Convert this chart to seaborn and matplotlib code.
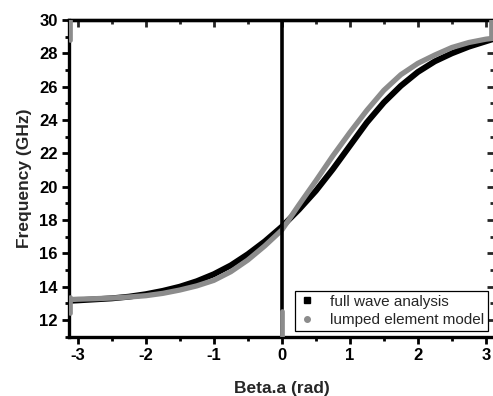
import matplotlib
matplotlib.use("Agg")
import matplotlib.pyplot as plt
import numpy as np
import pandas as pd
import seaborn as sns
from matplotlib.lines import Line2D
from matplotlib.ticker import MultipleLocator

# Phase shift per unit cell (rad)
beta = [-3.14, -3.0, -2.75, -2.5, -2.25, -2.0, -1.75, -1.5, -1.25, -1.0,
        -0.75, -0.5, -0.25, 0.0, 0.25, 0.5, 0.75, 1.0, 1.25, 1.5,
        1.75, 2.0, 2.25, 2.5, 2.75, 3.0, 3.14]

# Frequency (GHz) from the full wave simulation
freq_full_wave = [13.15, 13.18, 13.24, 13.30, 13.40, 13.55, 13.75, 14.00, 14.33, 14.75,
                  15.28, 15.95, 16.72, 17.60, 18.62, 19.75, 21.05, 22.45, 23.85, 25.05,
                  26.05, 26.88, 27.52, 28.00, 28.40, 28.72, 28.90]

# Frequency (GHz) from the lumped element (equivalent circuit) model
freq_lumped = [13.22, 13.25, 13.28, 13.32, 13.38, 13.46, 13.60, 13.80, 14.05, 14.38,
               14.90, 15.60, 16.45, 17.40, 18.90, 20.35, 21.85, 23.25, 24.58, 25.78,
               26.72, 27.40, 27.90, 28.35, 28.65, 28.85, 28.92]

# Band-edge solutions (vertical runs at beta = 0 and beta = +-pi)
fw_edge_beta = [0.0, 0.0]
fw_edge_freq = [11.0, 30.0]
lm_edge_beta = [0.0, 0.0, np.nan, -3.11, -3.11, np.nan, -3.11, -3.11, np.nan, 3.07, 3.07]
lm_edge_freq = [11.0, 12.55, np.nan, 12.45, 13.36, np.nan, 28.8, 30.0, np.nan, 28.9, 30.0]

x_ticks = [-3, -2, -1, 0, 1, 2, 3]
y_ticks = [12, 14, 16, 18, 20, 22, 24, 26, 28, 30]
legend_labels = ["full wave analysis", "lumped element model"]

BLACK = "#000000"
GRAY = "#8c8c8c"

sns.set_style("ticks")
plt.rcParams["font.family"] = ["Liberation Sans", "DejaVu Sans"]
plt.rcParams["font.weight"] = "bold"
plt.rcParams["axes.labelweight"] = "bold"

fig = plt.figure(figsize=(4.93, 3.96), dpi=100)
W, H = 493, 396
left, right, top, bottom = 69, 494, 20, 336.7
ax = fig.add_axes([left / W, 1 - bottom / H, (right - left) / W, (bottom - top) / H])

df_fw = pd.DataFrame({"beta": beta, "freq": freq_full_wave})
df_lm = pd.DataFrame({"beta": beta, "freq": freq_lumped})

sns.lineplot(data=df_fw, x="beta", y="freq", color=BLACK, linewidth=4.3,
             estimator=None, sort=False, ax=ax, zorder=3)
sns.lineplot(data=df_lm, x="beta", y="freq", color=GRAY, linewidth=3.8,
             estimator=None, sort=False, ax=ax, zorder=4)
ax.plot(fw_edge_beta, fw_edge_freq, color=BLACK, linewidth=2.6, zorder=5)
ax.plot(lm_edge_beta, lm_edge_freq, color=GRAY, linewidth=3.4, zorder=6)

ax.set_xlim(-3.13, 3.12)
ax.set_ylim(11.0, 30.0)
ax.set_xticks(x_ticks)
ax.set_yticks(y_ticks)
ax.set_xticklabels([f"{v:d}" for v in x_ticks])
ax.set_yticklabels([f"{v:d}" for v in y_ticks])
ax.xaxis.set_minor_locator(MultipleLocator(0.5))
ax.yaxis.set_minor_locator(MultipleLocator(1))

ax.tick_params(axis="both", which="major", direction="out", length=5, width=2,
               labelsize=12, pad=3, color=BLACK, labelcolor=BLACK)
ax.tick_params(axis="both", which="minor", direction="out", length=3, width=2, color=BLACK)
for sp in ax.spines.values():
    sp.set_linewidth(2.4)
    sp.set_color(BLACK)
    sp.set_visible(True)

# Mirrored inward ticks on top and right
secx = ax.secondary_xaxis("top")
secx.set_xticks(x_ticks)
secx.xaxis.set_minor_locator(MultipleLocator(0.5))
secx.tick_params(which="major", direction="in", length=5, width=2, labeltop=False)
secx.tick_params(which="minor", direction="in", length=3, width=2)
secx.spines["top"].set_linewidth(2.4)
secy = ax.secondary_yaxis("right")
secy.set_yticks(y_ticks)
secy.yaxis.set_minor_locator(MultipleLocator(1))
secy.tick_params(which="major", direction="in", length=5, width=2, labelright=False)
secy.tick_params(which="minor", direction="in", length=3, width=2)
secy.spines["right"].set_linewidth(2.4)

ax.set_xlabel("Beta.a (rad)", fontsize=12.5, fontweight="bold", labelpad=13)
ax.set_ylabel("Frequency (GHz)", fontsize=12.5, fontweight="bold", labelpad=5)

handles = [
    Line2D([], [], linestyle="none", marker="s", markersize=4.5, color=BLACK),
    Line2D([], [], linestyle="none", marker="o", markersize=4, color=GRAY),
]
leg = ax.legend(handles, legend_labels,
                loc="lower right", bbox_to_anchor=(0.985, 0.018), borderaxespad=0,
                frameon=True, fancybox=False, framealpha=1, edgecolor=BLACK,
                prop={"weight": "normal", "size": 11}, handletextpad=1.0,
                borderpad=0.25, labelspacing=0.3, handlelength=1.0)
leg.get_frame().set_linewidth(0.9)
leg.set_zorder(10)

fig.savefig("out.png", dpi=100)
